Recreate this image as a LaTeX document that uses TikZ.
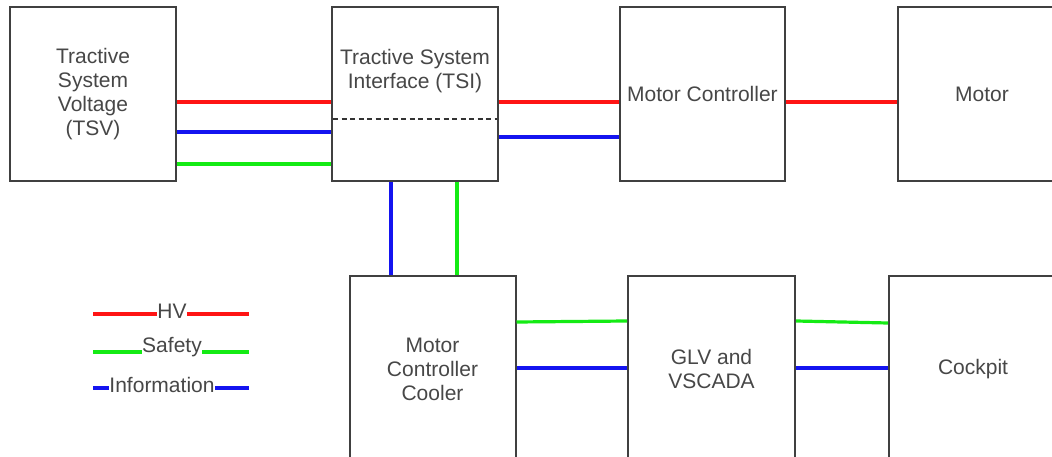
\documentclass[tikz,border=0pt]{standalone}
\usepackage{fontspec}
\setmainfont{Liberation Sans}
\begin{document}
\begin{tikzpicture}[
  x=1pt, y=-1pt,
  every node/.style={font=\fontsize{21}{24}\selectfont, text=black!72, align=center},
  blockbox/.style={draw=black!75, line width=2pt, minimum width=166pt, minimum height=174pt, inner sep=0pt},
  lowbox/.style={blockbox, minimum height=186pt},
  hvline/.style={draw={rgb,255:red,255;green,20;blue,20}, line width=3.2pt},
  safeline/.style={draw={rgb,255:red,20;green,235;blue,20}, line width=3.2pt},
  infoline/.style={draw={rgb,255:red,20;green,20;blue,240}, line width=3.2pt},
  keylabel/.style={inner sep=0.5pt}
]
\clip (0,0) rectangle (1052,457);
\fill[white] (0,0) rectangle (1052,457);

% Top row
\node[blockbox] (tsv) at (93,94) {Tractive\\System\\Voltage\\(TSV)};
\node[blockbox] (tsi) at (415,94) {};
\node (tsilbl) at (415,71) {Tractive System\\Interface (TSI)};
\node[blockbox, minimum width=165pt] (mc) at (702.5,94) {Motor Controller};
\node[blockbox, minimum width=168pt] (motor) at (982,94) {Motor};

\draw[dash pattern=on 5pt off 3.5pt, line width=1.6pt, black!80] ([xshift=2pt, yshift=-25pt]tsi.west) -- ([xshift=-2pt, yshift=-25pt]tsi.east);

% Bottom row
\node[lowbox] (mcc) at (432.5,369) {Motor\\Controller\\Cooler};
\node[lowbox, minimum width=167pt] (glv) at (711.5,369) {GLV and\\VSCADA};
\node[lowbox, minimum width=168pt] (cockpit) at (973,369) {Cockpit};

% Links
\draw[hvline]   (tsv.east |- 0,102) -- (tsi.west |- 0,102);
\draw[infoline] (tsv.east |- 0,132) -- (tsi.west |- 0,132);
\draw[safeline] (tsv.east |- 0,164) -- (tsi.west |- 0,164);

\draw[hvline]   (tsi.east |- 0,102) -- (mc.west |- 0,102);
\draw[infoline] (tsi.east |- 0,137) -- (mc.west |- 0,137);
\draw[hvline]   (mc.east |- 0,102) -- (motor.west |- 0,102);

\draw[infoline] (tsi.south -| 391,0) -- (mcc.north -| 391,0);
\draw[safeline] (tsi.south -| 457,0) -- (mcc.north -| 457,0);

\draw[safeline] (mcc.east |- 0,322) -- (glv.west |- 0,321);
\draw[infoline] (mcc.east |- 0,368) -- (glv.west |- 0,368);
\draw[safeline] (glv.east |- 0,321) -- (cockpit.west |- 0,323);
\draw[infoline] (glv.east |- 0,368) -- (cockpit.west |- 0,368);

% Legend
\coordinate (hva) at (93,314);
\coordinate (hvb) at (249,314);
\node[keylabel] (hvkey) at (172,311) {HV};
\draw[hvline] (hva) -- (hvkey.west |- hva);
\draw[hvline] (hvkey.east |- hvb) -- (hvb);

\coordinate (sfa) at (93,352);
\coordinate (sfb) at (249,352);
\node[keylabel] (sfkey) at (172,347) {Safety};
\draw[safeline] (sfa) -- (sfkey.west |- sfa);
\draw[safeline] (sfkey.east |- sfb) -- (sfb);

\coordinate (ifa) at (93,388);
\coordinate (ifb) at (249,388);
\node[keylabel] (ifkey) at (162,385) {Information};
\draw[infoline] (ifa) -- (ifkey.west |- ifa);
\draw[infoline] (ifkey.east |- ifb) -- (ifb);
\end{tikzpicture}
\end{document}
